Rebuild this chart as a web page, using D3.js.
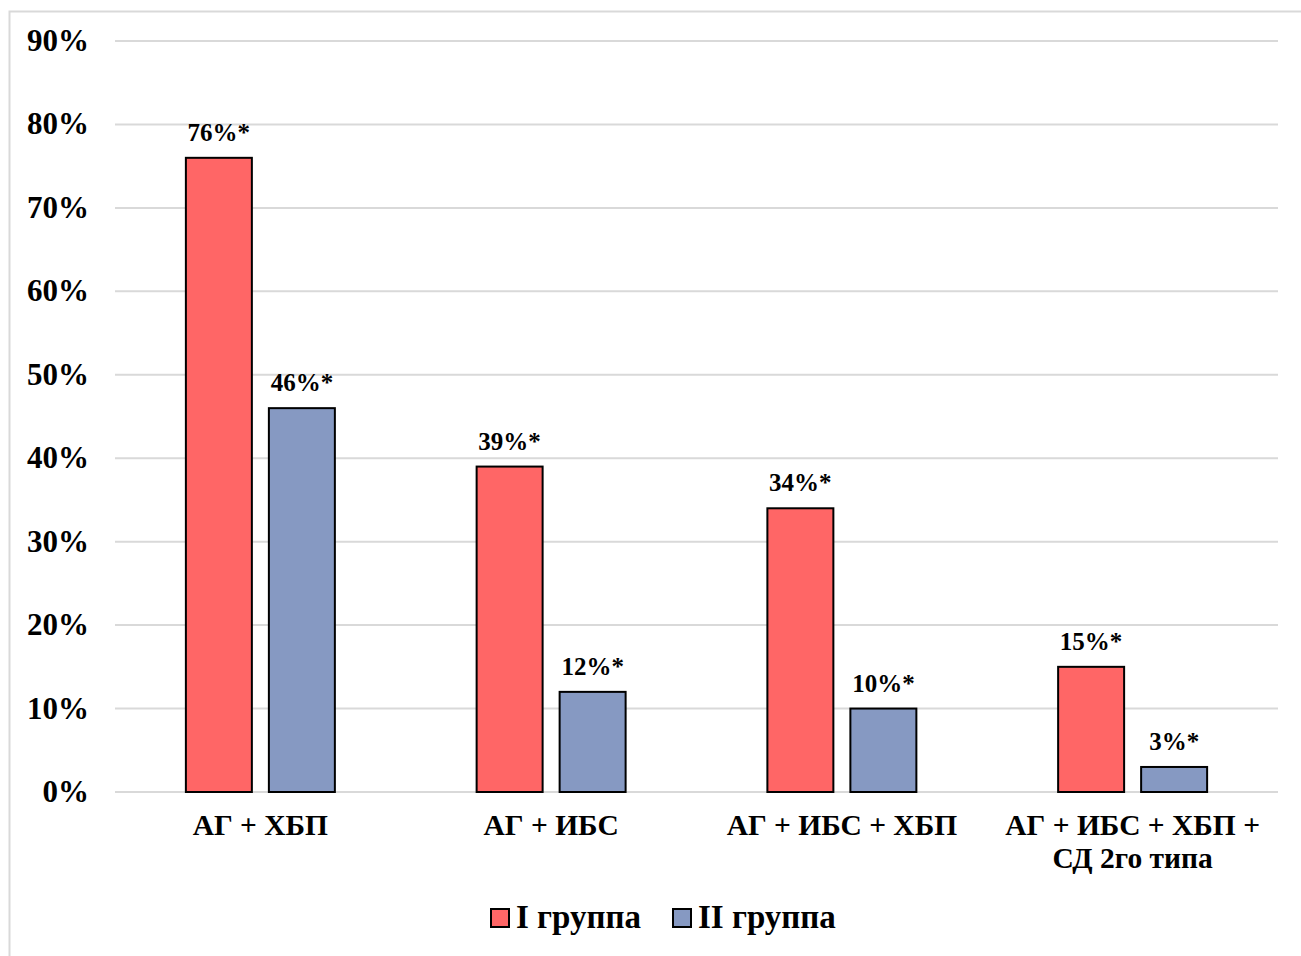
<!DOCTYPE html>
<html>
<head>
<meta charset="utf-8">
<script src="https://cdn.jsdelivr.net/npm/d3@7"></script>
<style>
  html, body { margin: 0; padding: 0; background: #fff; }
  svg { display: block; }
  text { font-family: "Liberation Serif", "Times New Roman", serif; font-weight: bold; fill: #000; }
</style>
</head>
<body>
<svg id="chart" width="1301" height="956"></svg>
<script>
// Comorbidity combinations (each entry is a list of label lines)
const categories = [
  ["АГ + ХБП"],
  ["АГ + ИБС"],
  ["АГ + ИБС + ХБП"],
  ["АГ + ИБС + ХБП +", "СД 2го типа"]
];
const seriesNames = ["I группа", "II группа"];
const group1 = [76, 39, 34, 15];
const group2 = [46, 12, 10, 3];
const valueLabels1 = ["76%*", "39%*", "34%*", "15%*"];
const valueLabels2 = ["46%*", "12%*", "10%*", "3%*"];
const yTicks = [0, 10, 20, 30, 40, 50, 60, 70, 80, 90];

const colors = ["#ff6666", "#8699c2"];

const svg = d3.select("#chart");

// outer frame
svg.append("rect")
  .attr("x", 9.5).attr("y", 11.5)
  .attr("width", 1320).attr("height", 1000)
  .attr("fill", "none").attr("stroke", "#d9d9d9").attr("stroke-width", 2);

const plot = { left: 115, right: 1278, top: 41, bottom: 792 };

const y = d3.scaleLinear().domain([0, 90]).range([plot.bottom, plot.top]);
const x0 = d3.scaleBand().domain(d3.range(categories.length)).range([plot.left, plot.right]).padding(0);
const x1 = d3.scaleBand().domain([0, 1]).range([0, x0.bandwidth()])
  .paddingInner(0.205).paddingOuter(0.854);

// gridlines
svg.append("g").selectAll("line").data(yTicks).join("line")
  .attr("x1", plot.left).attr("x2", plot.right)
  .attr("y1", d => y(d)).attr("y2", d => y(d))
  .attr("stroke", "#d9d9d9").attr("stroke-width", 2);

// y tick labels
svg.append("g").selectAll("text").data(yTicks).join("text")
  .attr("x", 89).attr("y", d => y(d) + 10)
  .attr("text-anchor", "end")
  .style("font-size", "31px")
  .text(d => d + "%");

const rows = categories.map((c, i) => ({ i, vals: [group1[i], group2[i]], labels: [valueLabels1[i], valueLabels2[i]] }));

const g = svg.append("g").selectAll("g").data(rows).join("g")
  .attr("transform", d => `translate(${x0(d.i)},0)`);

g.selectAll("rect").data(d => d.vals.map((v, k) => ({ v, k }))).join("rect")
  .attr("x", d => x1(d.k))
  .attr("width", x1.bandwidth())
  .attr("y", d => y(d.v))
  .attr("height", d => y(0) - y(d.v))
  .attr("fill", d => colors[d.k])
  .attr("stroke", "#000").attr("stroke-width", 2);

g.selectAll("text.val").data(d => d.vals.map((v, k) => ({ v, k, t: d.labels[k] }))).join("text")
  .attr("class", "val")
  .attr("x", d => x1(d.k) + x1.bandwidth() / 2)
  .attr("y", d => y(d.v) - 17)
  .attr("text-anchor", "middle")
  .style("font-size", "25px")
  .text(d => d.t);

// category labels
svg.append("g").selectAll("text").data(categories).join("text")
  .attr("text-anchor", "middle")
  .attr("x", (d, i) => x0(i) + x0.bandwidth() / 2)
  .attr("y", 835)
  .style("font-size", "29.5px")
  .selectAll("tspan").data(d => d).join("tspan")
  .attr("x", function () { return d3.select(this.parentNode).attr("x"); })
  .attr("dy", (d, j) => j === 0 ? 0 : 33)
  .text(d => d);

// legend
const legendItems = [{ x: 491, name: seriesNames[0], c: colors[0] }, { x: 673, name: seriesNames[1], c: colors[1] }];
const lg = svg.append("g").selectAll("g").data(legendItems).join("g")
  .attr("transform", d => `translate(${d.x},909)`);
lg.append("rect").attr("width", 18).attr("height", 18)
  .attr("fill", d => d.c).attr("stroke", "#000").attr("stroke-width", 2);
lg.append("text").attr("x", 25).attr("y", 19)
  .style("font-size", "33px")
  .text(d => d.name);
</script>
</body>
</html>
